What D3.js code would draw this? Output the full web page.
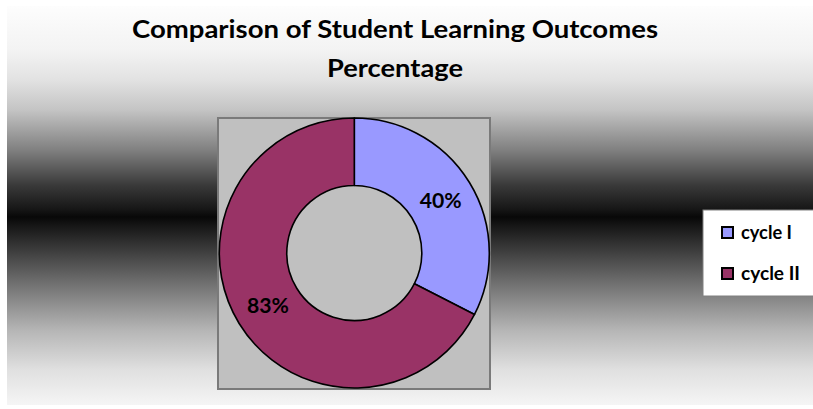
<!DOCTYPE html>
<html>
<head>
<meta charset="utf-8">
<script src="https://cdn.jsdelivr.net/npm/d3@7"></script>
<style>
  html, body { margin: 0; padding: 0; background: #ffffff; }
  svg { display: block; }
</style>
</head>
<body>
<svg id="chart" width="813" height="409"></svg>
<script>
const categories = ["cycle I", "cycle II"];
const values = [40, 83];
const labels = ["40%", "83%"];
const colors = ["#9999ff", "#993366"];
const titleLines = ["Comparison of Student Learning Outcomes", "Percentage"];

const svg = d3.select("#chart");
const W = 813, H = 409;
const FONT = "Lato, 'Open Sans', sans-serif";

// background gradient
const defs = svg.append("defs");
const bgY0 = 6, bgY1 = 405;
const grad = defs.append("linearGradient")
  .attr("id", "bg").attr("gradientUnits", "userSpaceOnUse")
  .attr("x1", 0).attr("x2", 0).attr("y1", bgY0).attr("y2", bgY1);
const stops = [
  [6, "#fdfdfd"], [50, "#f3f3f3"], [80, "#e2e2e2"], [110, "#c4c4c4"],
  [150, "#808080"], [185, "#3a3a3a"], [210, "#151515"], [217, "#080808"],
  [225, "#151515"], [250, "#3c3c3c"], [290, "#7a7a7a"], [330, "#b5b5b5"],
  [370, "#e0e0e0"], [405, "#f5f5f5"]
];
stops.forEach(([y, c]) => grad.append("stop")
  .attr("offset", (y - bgY0) / (bgY1 - bgY0)).attr("stop-color", c));

svg.append("rect").attr("x", 7).attr("y", bgY0).attr("width", W - 7).attr("height", bgY1 - bgY0)
  .attr("fill", "url(#bg)");

// title
const titleY = [37.5, 76.5];
titleLines.forEach((t, i) => {
  svg.append("text")
    .attr("x", 395).attr("y", titleY[i])
    .attr("text-anchor", "middle")
    .attr("font-family", FONT).attr("font-weight", "bold")
    .attr("font-size", 25)
    .attr("textLength", i === 0 ? 526 : 136)
    .attr("lengthAdjust", "spacingAndGlyphs")
    .attr("fill", "#000")
    .text(t);
});

// plot area
const px0 = 218, py0 = 118, px1 = 490, py1 = 389;
svg.append("rect").attr("x", px0).attr("y", py0).attr("width", px1 - px0).attr("height", py1 - py0)
  .attr("fill", "#c0c0c0").attr("stroke", "#7a7a7a").attr("stroke-width", 2);

// donut
const cx = 354.3, cy = 253, rOuter = 135, rInner = 67.5;
const pie = d3.pie().sort(null).value(d => d.value);
const data = categories.map((c, i) => ({ name: c, value: values[i], label: labels[i], color: colors[i] }));
const arcs = pie(data);
const arc = d3.arc().innerRadius(rInner).outerRadius(rOuter);
const g = svg.append("g").attr("transform", `translate(${cx},${cy})`);
g.selectAll("path.slice").data(arcs).enter().append("path")
  .attr("class", "slice")
  .attr("d", arc)
  .attr("fill", d => d.data.color)
  .attr("stroke", "#000").attr("stroke-width", 1.6)
  .attr("stroke-linejoin", "round");

const labelArc = d3.arc().innerRadius((rInner + rOuter) / 2).outerRadius((rInner + rOuter) / 2);
g.selectAll("text.lbl").data(arcs).enter().append("text")
  .attr("class", "lbl")
  .attr("x", d => labelArc.centroid(d)[0])
  .attr("y", d => labelArc.centroid(d)[1] + 7.5)
  .attr("text-anchor", "middle")
  .attr("font-family", FONT).attr("font-weight", "bold")
  .attr("font-size", 20.5)
  .attr("textLength", 42).attr("lengthAdjust", "spacingAndGlyphs")
  .attr("fill", "#000")
  .text(d => d.data.label);

// legend
const lg = svg.append("g");
lg.append("rect").attr("x", 703).attr("y", 210).attr("width", 120).attr("height", 86)
  .attr("fill", "#ffffff").attr("stroke", "#808080").attr("stroke-width", 1);
const legendY = [232.5, 273.5];
const legendW = [51, 59];
data.forEach((d, i) => {
  lg.append("rect").attr("x", 722).attr("y", legendY[i] - 5.5).attr("width", 11).attr("height", 11)
    .attr("fill", d.color).attr("stroke", "#000").attr("stroke-width", 2);
  lg.append("text").attr("x", 741).attr("y", legendY[i] + 6)
    .attr("font-family", FONT).attr("font-weight", "bold").attr("font-size", 18.5)
    .attr("textLength", legendW[i]).attr("lengthAdjust", "spacingAndGlyphs")
    .attr("fill", "#000")
    .text(d.name);
});
</script>
</body>
</html>
